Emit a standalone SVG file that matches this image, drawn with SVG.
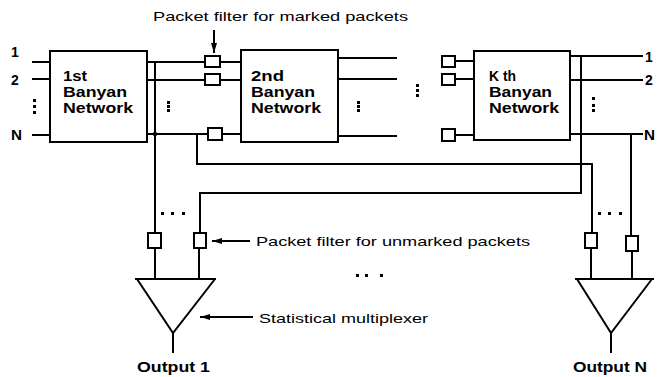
<svg xmlns="http://www.w3.org/2000/svg" width="657" height="377" viewBox="0 0 657 377">
<style>
.ln{fill:none;stroke:#000;stroke-width:2;stroke-linejoin:miter}
.bx{fill:#fff;stroke:#000;stroke-width:2}
.flt{fill:#fff;stroke:#000;stroke-width:2}
.t{font-family:"Liberation Sans",Arial,sans-serif;font-size:13px;fill:#000}
.b{font-family:"Liberation Sans",Arial,sans-serif;font-size:14px;font-weight:bold;fill:#000}
.d{fill:#000}
</style>
<defs>
<marker id="ah" viewBox="0 0 10 6" refX="10" refY="3" markerWidth="10" markerHeight="6" markerUnits="userSpaceOnUse" orient="auto">
<path d="M0,0 L10,3 L0,6 z" fill="#000"/>
</marker>
</defs>

<g id="connectors">
<!-- inputs -->
<path class="ln" d="M32,62H50 M32,79H50 M32,135H50"/>
<!-- box1 outputs -->
<path class="ln" d="M147,62H205 M220,62H241 M147,80H205 M220,80H241 M147,134H208 M222,134H241"/>
<!-- bus from 1st network -->
<path class="ln" d="M155,62V233"/>
<circle class="d" cx="155" cy="134" r="2.2"/>
<!-- branch from 1st network N to output N -->
<path class="ln" d="M197,134V164H592V233"/>
<!-- box2 outputs -->
<path class="ln" d="M338,58H397 M338,79H397 M338,136H397"/>
<!-- before Kth -->
<path class="ln" d="M455,61H474 M455,79H474 M455,135H474"/>
<!-- Kth outputs -->
<path class="ln" d="M570,56H643 M570,80H643 M570,134H643"/>
<!-- Kth bus to output 1 -->
<path class="ln" d="M581,56V193H200V233"/>
<!-- Kth N to output N -->
<path class="ln" d="M631,134V236"/>
<!-- stems to multiplexers -->
<path class="ln" d="M155,248V279 M199,248V279 M591,248V279 M632,251V279"/>
<path class="ln" d="M173,333V353 M611,333V353"/>
<!-- annotation arrows -->
<path class="ln" d="M214,30V53" stroke-width="1.5" marker-end="url(#ah)"/>
<path class="ln" d="M250,241H212" stroke-width="1.5" marker-end="url(#ah)"/>
<path class="ln" d="M253,317H200" stroke-width="1.5" marker-end="url(#ah)"/>
</g>

<g id="net1">
<rect class="bx" x="50" y="51" width="97" height="91"/>
<text class="b" x="63" y="81" textLength="24" lengthAdjust="spacingAndGlyphs">1st</text>
<text class="b" x="63" y="97" textLength="64" lengthAdjust="spacingAndGlyphs">Banyan</text>
<text class="b" x="63" y="113" textLength="70" lengthAdjust="spacingAndGlyphs">Network</text>
</g>
<g id="net2">
<rect class="bx" x="241" y="50" width="97" height="92"/>
<text class="b" x="251" y="81" textLength="33" lengthAdjust="spacingAndGlyphs">2nd</text>
<text class="b" x="251" y="97" textLength="64" lengthAdjust="spacingAndGlyphs">Banyan</text>
<text class="b" x="251" y="113" textLength="70" lengthAdjust="spacingAndGlyphs">Network</text>
</g>
<g id="netK">
<rect class="bx" x="474" y="51" width="96" height="89"/>
<text class="b" x="489" y="81" textLength="27" lengthAdjust="spacingAndGlyphs">K th</text>
<text class="b" x="489" y="97" textLength="63" lengthAdjust="spacingAndGlyphs">Banyan</text>
<text class="b" x="489" y="113" textLength="70" lengthAdjust="spacingAndGlyphs">Network</text>
</g>

<g id="filters-marked">
<rect class="flt" x="205" y="56" width="15" height="11"/>
<rect class="flt" x="205" y="74" width="15" height="11"/>
<rect class="flt" x="208" y="128" width="14" height="12"/>
<rect class="flt" x="442" y="56" width="13" height="11"/>
<rect class="flt" x="442" y="74" width="13" height="11"/>
<rect class="flt" x="442" y="129" width="13" height="12"/>
</g>

<g id="filters-unmarked">
<rect class="flt" x="148" y="233" width="13" height="15"/>
<rect class="flt" x="194" y="233" width="12" height="15"/>
<rect class="flt" x="585" y="233" width="12" height="15"/>
<rect class="flt" x="626" y="236" width="12" height="15"/>
</g>

<g id="mux1">
<path class="ln" d="M135,279H216 M137,279L173,333L215,279" stroke-width="2.2"/>
<text class="b" x="137" y="372" textLength="73" lengthAdjust="spacingAndGlyphs">Output 1</text>
</g>
<g id="muxN">
<path class="ln" d="M575,279H654 M577,279L611,333L652,279" stroke-width="2.2"/>
<text class="b" x="573" y="372" textLength="74" lengthAdjust="spacingAndGlyphs">Output N</text>
</g>

<g id="labels">
<text class="b" x="11" y="57">1</text>
<text class="b" x="11" y="85">2</text>
<text class="b" x="11" y="140" textLength="11" lengthAdjust="spacingAndGlyphs">N</text>
<text class="b" x="645" y="62">1</text>
<text class="b" x="645" y="85">2</text>
<text class="b" x="644" y="140" textLength="11" lengthAdjust="spacingAndGlyphs">N</text>
<text class="t" x="153" y="21" textLength="255" lengthAdjust="spacingAndGlyphs">Packet filter for marked packets</text>
<text class="t" x="256" y="246" textLength="274" lengthAdjust="spacingAndGlyphs">Packet filter for unmarked packets</text>
<text class="t" x="259" y="323" textLength="169" lengthAdjust="spacingAndGlyphs">Statistical multiplexer</text>
</g>

<g id="dots">
<rect class="d" x="33" y="99" width="3" height="3"/><rect class="d" x="33" y="105" width="3" height="3"/><rect class="d" x="33" y="111" width="3" height="3"/>
<rect class="d" x="167" y="101" width="3" height="3"/><rect class="d" x="167" y="105" width="3" height="3"/><rect class="d" x="167" y="109" width="3" height="3"/>
<rect class="d" x="357" y="101" width="3" height="3"/><rect class="d" x="357" y="105" width="3" height="3"/><rect class="d" x="357" y="109" width="3" height="3"/>
<rect class="d" x="416" y="84" width="3" height="3"/><rect class="d" x="416" y="89" width="3" height="3"/><rect class="d" x="416" y="94" width="3" height="3"/>
<rect class="d" x="592" y="97" width="3" height="3"/><rect class="d" x="592" y="104" width="3" height="3"/><rect class="d" x="592" y="109" width="3" height="3"/>
<rect class="d" x="161" y="212" width="3" height="3"/><rect class="d" x="171" y="212" width="3" height="3"/><rect class="d" x="182" y="212" width="3" height="3"/>
<rect class="d" x="598" y="212" width="3" height="3"/><rect class="d" x="608" y="212" width="3" height="3"/><rect class="d" x="619" y="212" width="3" height="3"/>
<rect class="d" x="356" y="274" width="3" height="3"/><rect class="d" x="365" y="274" width="3" height="3"/><rect class="d" x="380" y="274" width="3" height="3"/>
</g>
</svg>
